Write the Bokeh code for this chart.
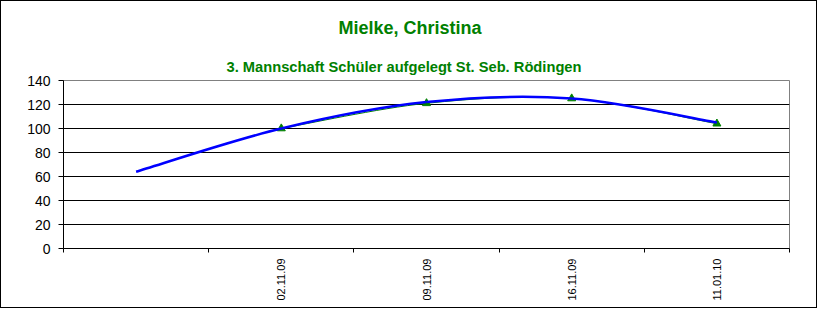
import numpy as np
from bokeh.plotting import figure
from bokeh.models import Range1d, FixedTicker, Title
from bokeh.embed import file_html
from bokeh.resources import INLINE

# ---- data ----
categories = ["", "02.11.09", "09.11.09", "16.11.09", "11.01.10"]
series_dates = ["02.11.09", "09.11.09", "16.11.09", "11.01.10"]
series_values = [100, 121, 125, 104]
trend_values = [64, 100, 122, 125, 105]   # trendline, one period backward forecast
y_ticks = [0, 20, 40, 60, 80, 100, 120, 140]
title_text = "Mielke, Christina"
subtitle_text = "3. Mannschaft Schüler aufgelegt St. Seb. Rödingen"

GREEN = "#008000"
BLUE = "#0000FF"
FONT = "Liberation Sans"

cat_pos = {c: i + 1 for i, c in enumerate(categories)}
sx = np.array([cat_pos[d] for d in series_dates], dtype=float)
sy = np.array(series_values, dtype=float)
tx = np.arange(1, len(categories) + 1, dtype=float)
ty = np.array(trend_values, dtype=float)


def smooth_segments(x, y):
    """Bezier control points for an Excel-like smoothed line."""
    n = len(x)
    xp = np.concatenate([[x[0]], x, [x[-1]]])
    yp = np.concatenate([[y[0]], y, [y[-1]]])
    seg = {k: [] for k in ("x0", "y0", "x1", "y1", "cx0", "cy0", "cx1", "cy1")}
    for i in range(n - 1):
        j = i + 1
        seg["x0"].append(xp[j]); seg["y0"].append(yp[j])
        seg["x1"].append(xp[j + 1]); seg["y1"].append(yp[j + 1])
        seg["cx0"].append(xp[j] + (xp[j + 1] - xp[j - 1]) / 6)
        seg["cy0"].append(yp[j] + (yp[j + 1] - yp[j - 1]) / 6)
        seg["cx1"].append(xp[j + 1] - (xp[j + 2] - xp[j]) / 6)
        seg["cy1"].append(yp[j + 1] - (yp[j + 2] - yp[j]) / 6)
    return seg


p = figure(width=817, height=308, output_backend="svg", toolbar_location=None,
           x_range=Range1d(0.5, len(categories) + 0.5),
           y_range=Range1d(y_ticks[0], y_ticks[-1]),
           min_border_left=62, min_border_right=29,
           min_border_top=79, min_border_bottom=61,
           background_fill_color="white", border_fill_color="white")
p.styles = {"border": "1px solid black"}
p.outline_line_color = "#808080"
p.outline_line_width = 1

# titles (subtitle closest to the frame)
p.add_layout(Title(text=subtitle_text, align="left", offset=163, standoff=12,
                   text_color=GREEN, text_font=FONT, text_font_size="14.7px",
                   text_font_style="bold"), "above")
p.add_layout(Title(text=title_text, align="left", offset=275, standoff=25,
                   text_color=GREEN, text_font=FONT, text_font_size="18px",
                   text_font_style="bold"), "above")

# grid
p.xgrid.visible = False
p.ygrid.ticker = FixedTicker(ticks=y_ticks[1:-1])
p.ygrid.grid_line_color = "black"
p.ygrid.grid_line_width = 1

# y axis
p.yaxis.ticker = FixedTicker(ticks=y_ticks)
p.yaxis.axis_line_color = "black"
p.yaxis.major_tick_line_color = "black"
p.yaxis.major_tick_out = 5
p.yaxis.major_tick_in = 0
p.yaxis.minor_tick_out = 0
p.yaxis.minor_tick_in = 0
p.yaxis.major_label_standoff = 8
p.yaxis.major_label_text_font = FONT
p.yaxis.major_label_text_font_size = "14px"
p.yaxis.major_label_text_color = "black"

# x axis: labels at category centres, ticks at category boundaries
centres = list(tx)
bounds = list(np.arange(0.5, len(categories) + 1.0, 1.0))
p.xaxis.ticker = FixedTicker(ticks=centres, minor_ticks=bounds)
p.xaxis.major_label_overrides = {float(c): lab for c, lab in zip(centres, categories)}
p.xaxis.axis_line_color = "black"
p.xaxis.major_tick_out = 0
p.xaxis.major_tick_in = 0
p.xaxis.minor_tick_out = 4
p.xaxis.minor_tick_in = 0
p.xaxis.minor_tick_line_color = "black"
p.xaxis.major_label_orientation = np.pi / 2
p.xaxis.major_label_standoff = 6
p.xaxis.major_label_text_font = FONT
p.xaxis.major_label_text_font_size = "11px"
p.xaxis.major_label_text_color = "black"

# series line (smoothed) + markers
gs = smooth_segments(sx, sy)
p.bezier(x0=gs["x0"], y0=gs["y0"], x1=gs["x1"], y1=gs["y1"],
         cx0=gs["cx0"], cy0=gs["cy0"], cx1=gs["cx1"], cy1=gs["cy1"],
         line_color=GREEN, line_width=1)
p.scatter(sx, sy, marker="triangle", size=8, fill_color=GREEN, line_color=GREEN)

# trendline
ts = smooth_segments(tx, ty)
p.bezier(x0=ts["x0"], y0=ts["y0"], x1=ts["x1"], y1=ts["y1"],
         cx0=ts["cx0"], cy0=ts["cy0"], cx1=ts["cx1"], cy1=ts["cy1"],
         line_color=BLUE, line_width=2.5)

open("out.html", "w").write(file_html(p, INLINE))
